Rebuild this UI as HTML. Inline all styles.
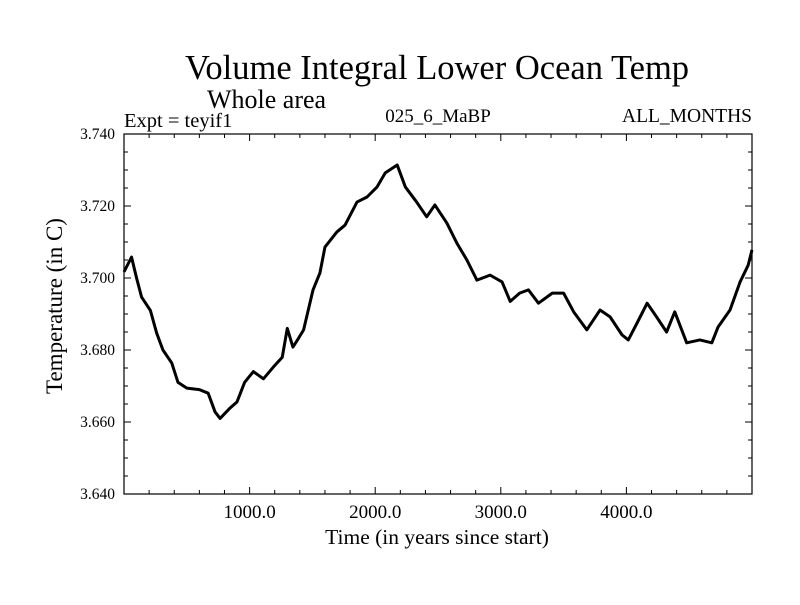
<!DOCTYPE html>
<html><head><meta charset="utf-8"><style>
body{margin:0;background:#fff}
svg text{font-family:"Liberation Serif",serif;fill:#000}
</style></head><body>
<svg id="chart" width="800" height="600" viewBox="0 0 800 600">
<rect width="800" height="600" fill="#fff"/>
<text x="437" y="79" font-size="34.5" text-anchor="middle">Volume Integral Lower Ocean Temp</text>
<text x="207" y="108" font-size="26">Whole area</text>
<text x="124" y="127" font-size="20.5">Expt = teyif1</text>
<text x="438" y="122" font-size="19" text-anchor="middle">025_6_MaBP</text>
<text x="752" y="122" font-size="19.5" text-anchor="end">ALL_MONTHS</text>
<text x="437" y="544" font-size="21.5" text-anchor="middle">Time (in years since start)</text>
<text transform="translate(62,306) rotate(-90)" font-size="23" text-anchor="middle">Temperature (in C)</text>
<g id="axes"></g>
<rect x="124" y="134" width="628" height="360" fill="none" stroke="#000" stroke-width="1.2"/>
</svg>
<script>
const years = [0,60,100,140,210,260,310,380,430,500,600,670,725,765,845,900,960,1030,1110,1190,1260,1300,1345,1385,1430,1505,1560,1600,1695,1760,1855,1935,2015,2080,2175,2240,2330,2410,2475,2570,2650,2730,2810,2915,3010,3075,3150,3220,3300,3410,3500,3580,3685,3790,3870,3965,4015,4085,4165,4240,4320,4385,4480,4585,4680,4730,4825,4905,4970,5000];
const temps = [3.7017,3.7058,3.700,3.6947,3.691,3.6847,3.680,3.6764,3.671,3.6694,3.669,3.668,3.6628,3.661,3.6639,3.6656,3.671,3.674,3.672,3.6753,3.678,3.686,3.6808,3.6830,3.6856,3.6967,3.7014,3.7086,3.7128,3.7147,3.7211,3.7225,3.7253,3.7292,3.7314,3.7253,3.7211,3.717,3.7203,3.7153,3.7097,3.705,3.6994,3.7008,3.6989,3.6935,3.6958,3.6967,3.693,3.6958,3.6958,3.6906,3.6856,3.6911,3.6892,3.6842,3.6828,3.6875,3.693,3.6892,3.685,3.6906,3.682,3.6828,3.682,3.6864,3.6911,3.6989,3.7036,3.7078];
const xTicks = [1000,2000,3000,4000];
const xTickLabels = ["1000.0","2000.0","3000.0","4000.0"];
const yTicks = [3.64,3.66,3.68,3.70,3.72,3.74];
const yTickLabels = ["3.640","3.660","3.680","3.700","3.720","3.740"];
const X0=124,X1=752,Y0=494,Y1=134, XMIN=0,XMAX=5000,YMIN=3.64,YMAX=3.74;
const sx=v=>X0+(v-XMIN)/(XMAX-XMIN)*(X1-X0);
const sy=v=>Y0-(v-YMIN)/(YMAX-YMIN)*(Y0-Y1);
const NS="http://www.w3.org/2000/svg";
const g=document.getElementById('axes');
function line(x1,y1,x2,y2,name){
  const l=document.createElementNS(NS,'line');
  l.setAttribute('x1',x1);l.setAttribute('y1',y1);l.setAttribute('x2',x2);l.setAttribute('y2',y2);
  l.setAttribute('stroke','#000');l.setAttribute('stroke-width','1');
  
  
  g.appendChild(l);
}
for(let v=200; v<XMAX; v+=200){
  const major = v%1000===0, len = major?7:4, x=sx(v);
  line(x,Y0,x,Y0-len,'x-tick');
  line(x,Y1,x,Y1+len,'x-tick-top');
}
for(let i=1;i<20;i++){
  const v=YMIN+i*0.005, major=i%4===0, len=major?7:4, y=sy(v);
  line(X0,y,X0+len,y,'y-tick');
  line(X1,y,X1-len,y,'y-tick-right');
}
xTicks.forEach((v,i)=>{
  const t=document.createElementNS(NS,'text');
  t.setAttribute('x',sx(v));t.setAttribute('y',Y0+24);t.setAttribute('font-size','19');t.setAttribute('text-anchor','middle');
  t.textContent=xTickLabels[i];
  
  
  g.appendChild(t);
});
yTicks.forEach((v,i)=>{
  const t=document.createElementNS(NS,'text');
  t.setAttribute('x',X0-9);t.setAttribute('y',sy(v)+5);t.setAttribute('font-size','15.5');t.setAttribute('text-anchor','end');
  t.textContent=yTickLabels[i];
  
  
  g.appendChild(t);
});
const p=document.createElementNS(NS,'polyline');
p.setAttribute('points',years.map((y,i)=>sx(y)+','+sy(temps[i])).join(' '));
p.setAttribute('fill','none');p.setAttribute('stroke','#000');p.setAttribute('stroke-width','3');p.setAttribute('stroke-linejoin','round');


g.appendChild(p);
</script>
</body></html>
